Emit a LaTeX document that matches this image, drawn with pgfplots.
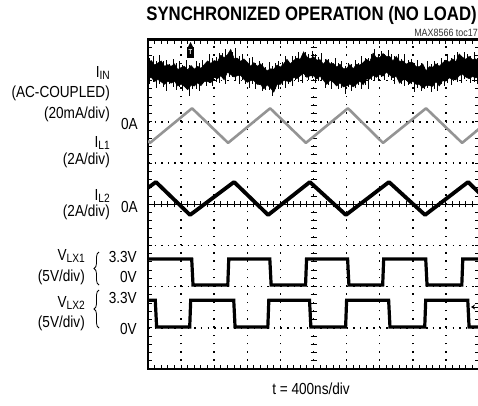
\documentclass[border=0pt]{standalone}
\usepackage{fontspec}
\setmainfont{Liberation Sans}
\newfontfamily\lab[FakeStretch=0.85]{Liberation Sans}
\newfontfamily\titlef[FakeStretch=0.86]{Liberation Sans}
\usepackage{pgfplots}
\pgfplotsset{compat=1.18}
\usepgfplotslibrary{fillbetween}
\usetikzlibrary{decorations.pathreplacing,arrows.meta}
\newcommand{\sub}[1]{\raisebox{-2pt}{\fontsize{12}{12}\selectfont #1}}
\begin{document}
\begin{tikzpicture}[x=1pt,y=1pt]
% centre lines with ticks (graticule decoration)
\draw[black, line width=1pt] (148,200.75) -- (479,200.75);
\foreach \k in {1,...,49} {\draw[black,line width=1pt] (148+\k*6.62,197.75) -- (148+\k*6.62,203.75);}
\foreach \k in {1,...,39} {\draw[black,line width=1pt] (310.5,36+\k*8.2375) -- (316.5,36+\k*8.2375);}
\begin{axis}[
  at={(148pt,36pt)}, anchor=south west,
  scale only axis, width=331pt, height=329.5pt,
  xmin=0, xmax=10, ymin=0, ymax=8,
  xtick={0,...,10}, ytick={0,...,8},
  minor x tick num=4, minor y tick num=4,
  xticklabels={}, yticklabels={},
  tick align=inside, major tick length=4pt, minor tick length=4pt,
  tick style={black, line width=1pt},
  grid=major,
  major x grid style={black, line width=1.5pt, dash pattern=on 1.5pt off 6.74pt},
  major y grid style={black, line width=1.5pt, dash pattern=on 1.5pt off 5.12pt},
  axis line style={line width=2.5pt},
]
% I_IN noisy band (AC-coupled input current)
\addplot[name path=up, black, line width=0.5pt] coordinates {
(0,7.44)(0.1,7.49)(0.2,7.38)(0.3,7.43)(0.4,7.48)(0.5,7.35)(0.6,7.39)(0.7,7.35)(0.8,7.41)(0.9,7.27)
(1,7.32)(1.1,7.35)(1.2,7.26)(1.3,7.37)(1.4,7.28)(1.5,7.35)(1.6,7.30)(1.7,7.39)(1.8,7.48)(1.9,7.42)
(2,7.49)(2.1,7.46)(2.2,7.62)(2.3,7.56)(2.4,7.63)(2.5,7.76)(2.6,7.54)(2.7,7.55)(2.8,7.47)(2.9,7.53)
(3,7.45)(3.1,7.35)(3.2,7.44)(3.3,7.35)(3.4,7.41)(3.5,7.32)(3.6,7.24)(3.7,7.29)(3.8,7.28)(3.9,7.38)
(4,7.33)(4.1,7.41)(4.2,7.52)(4.3,7.41)(4.4,7.49)(4.5,7.55)(4.6,7.52)(4.7,7.70)(4.8,7.58)(4.9,7.53)
(5,7.58)(5.1,7.50)(5.2,7.51)(5.3,7.40)(5.4,7.51)(5.5,7.41)(5.6,7.42)(5.7,7.33)(5.8,7.40)(5.9,7.29)
(6,7.30)(6.1,7.39)(6.2,7.29)(6.3,7.40)(6.4,7.38)(6.5,7.44)(6.6,7.52)(6.7,7.46)(6.8,7.67)(6.9,7.56)
(7,7.56)(7.1,7.66)(7.2,7.59)(7.3,7.59)(7.4,7.48)(7.5,7.59)(7.6,7.47)(7.7,7.48)(7.8,7.40)(7.9,7.45)
(8,7.44)(8.1,7.34)(8.2,7.34)(8.3,7.41)(8.4,7.24)(8.5,7.34)(8.6,7.33)(8.7,7.41)(8.8,7.35)(8.9,7.43)
(9,7.50)(9.1,7.45)(9.2,7.53)(9.3,7.46)(9.4,7.65)(9.5,7.57)(9.6,7.52)(9.7,7.59)(9.8,7.51)(9.9,7.53)(10,7.45)};
\addplot[name path=lo, black, line width=0.5pt] coordinates {
(0,7.05)(0.1,7.08)(0.2,6.98)(0.3,7.03)(0.4,6.97)(0.5,6.91)(0.6,6.99)(0.7,6.94)(0.8,6.99)(0.9,6.87)
(1,6.92)(1.1,6.86)(1.2,6.78)(1.3,6.89)(1.4,6.87)(1.5,6.95)(1.6,6.88)(1.7,6.98)(1.8,6.98)(1.9,6.95)
(2,7.08)(2.1,7.05)(2.2,7.12)(2.3,7.02)(2.4,7.21)(2.5,7.15)(2.6,7.09)(2.7,7.12)(2.8,7.13)(2.9,7.03)
(3,6.96)(3.1,7.00)(3.2,7.00)(3.3,6.91)(3.4,6.91)(3.5,6.80)(3.6,6.90)(3.7,6.82)(3.8,6.72)(3.9,6.91)
(4,6.91)(4.1,7.01)(4.2,6.99)(4.3,6.97)(4.4,7.08)(4.5,7.05)(4.6,7.12)(4.7,7.18)(4.8,7.08)(4.9,7.12)
(5,7.12)(5.1,7.04)(5.2,7.11)(5.3,7.01)(5.4,6.91)(5.5,7.01)(5.6,6.96)(5.7,6.87)(5.8,6.95)(5.9,6.85)
(6,6.87)(6.1,6.92)(6.2,6.85)(6.3,6.92)(6.4,6.99)(6.5,6.90)(6.6,7.04)(6.7,7.04)(6.8,7.13)(6.9,7.08)
(7,7.15)(7.1,7.11)(7.2,7.21)(7.3,7.14)(7.4,7.07)(7.5,7.11)(7.6,6.94)(7.7,7.02)(7.8,7.02)(7.9,6.93)
(8,6.99)(8.1,6.91)(8.2,6.91)(8.3,6.82)(8.4,6.88)(8.5,6.88)(8.6,6.86)(8.7,6.98)(8.8,6.87)(8.9,7.00)
(9,6.99)(9.1,7.07)(9.2,7.03)(9.3,7.02)(9.4,7.12)(9.5,7.16)(9.6,7.09)(9.7,7.05)(9.8,7.10)(9.9,7.07)(10,7.08)};
\addplot[black] fill between[of=up and lo];
% noise spikes of I_IN
\addplot[draw=none, mark=none, error bars/.cd, y dir=both, y explicit, error mark=none,
  error bar style={black, line width=0.6pt}] coordinates {
(0.05,7.25) += (0,0.30) -= (0,0.33) (0.15,7.24) += (0,0.36) -= (0,0.27) (0.25,7.22) += (0,0.26) -= (0,0.39) (0.35,7.21) += (0,0.41) -= (0,0.29) (0.45,7.20) += (0,0.28) -= (0,0.35)
(0.55,7.18) += (0,0.33) -= (0,0.42) (0.65,7.17) += (0,0.24) -= (0,0.26) (0.75,7.15) += (0,0.38) -= (0,0.31) (0.85,7.14) += (0,0.29) -= (0,0.37) (0.95,7.12) += (0,0.35) -= (0,0.28)
(1.05,7.11) += (0,0.27) -= (0,0.36) (1.15,7.10) += (0,0.40) -= (0,0.30) (1.25,7.08) += (0,0.31) -= (0,0.44) (1.35,7.08) += (0,0.25) -= (0,0.27) (1.45,7.11) += (0,0.37) -= (0,0.32)
(1.55,7.14) += (0,0.29) -= (0,0.38) (1.65,7.17) += (0,0.34) -= (0,0.25) (1.75,7.20) += (0,0.26) -= (0,0.34) (1.85,7.23) += (0,0.43) -= (0,0.29) (1.95,7.26) += (0,0.30) -= (0,0.40)
(2.05,7.29) += (0,0.28) -= (0,0.31) (2.15,7.32) += (0,0.35) -= (0,0.37) (2.25,7.35) += (0,0.32) -= (0,0.28) (2.35,7.38) += (0,0.39) -= (0,0.46) (2.45,7.39) += (0,0.27) -= (0,0.30)
(2.55,7.36) += (0,0.33) -= (0,0.26) (2.65,7.34) += (0,0.45) -= (0,0.35) (2.75,7.31) += (0,0.29) -= (0,0.39) (2.85,7.28) += (0,0.36) -= (0,0.27) (2.95,7.25) += (0,0.26) -= (0,0.33)
(3.05,7.23) += (0,0.31) -= (0,0.41) (3.15,7.20) += (0,0.38) -= (0,0.29) (3.25,7.17) += (0,0.27) -= (0,0.36) (3.35,7.14) += (0,0.34) -= (0,0.25) (3.45,7.12) += (0,0.30) -= (0,0.38)
(3.55,7.09) += (0,0.25) -= (0,0.32) (3.65,7.06) += (0,0.40) -= (0,0.28) (3.75,7.07) += (0,0.28) -= (0,0.43) (3.85,7.10) += (0,0.33) -= (0,0.30) (3.95,7.13) += (0,0.36) -= (0,0.34)
(4.05,7.16) += (0,0.29) -= (0,0.27) (4.15,7.19) += (0,0.42) -= (0,0.36) (4.25,7.22) += (0,0.26) -= (0,0.31) (4.35,7.25) += (0,0.35) -= (0,0.39) (4.45,7.28) += (0,0.31) -= (0,0.26)
(4.55,7.31) += (0,0.38) -= (0,0.33) (4.65,7.34) += (0,0.27) -= (0,0.40) (4.75,7.37) += (0,0.33) -= (0,0.29) (4.85,7.36) += (0,0.30) -= (0,0.35) (4.95,7.34) += (0,0.37) -= (0,0.28)
(5.05,7.31) += (0,0.34) -= (0,0.37) (5.15,7.29) += (0,0.28) -= (0,0.30) (5.25,7.26) += (0,0.41) -= (0,0.26) (5.35,7.24) += (0,0.29) -= (0,0.42) (5.45,7.21) += (0,0.32) -= (0,0.32)
(5.55,7.19) += (0,0.26) -= (0,0.38) (5.65,7.17) += (0,0.39) -= (0,0.27) (5.75,7.14) += (0,0.30) -= (0,0.34) (5.85,7.12) += (0,0.35) -= (0,0.29) (5.95,7.09) += (0,0.27) -= (0,0.41)
(6.05,7.09) += (0,0.33) -= (0,0.25) (6.15,7.11) += (0,0.29) -= (0,0.36) (6.25,7.14) += (0,0.37) -= (0,0.31) (6.35,7.17) += (0,0.25) -= (0,0.28) (6.45,7.20) += (0,0.40) -= (0,0.39)
(6.55,7.23) += (0,0.31) -= (0,0.33) (6.65,7.26) += (0,0.28) -= (0,0.45) (6.75,7.29) += (0,0.36) -= (0,0.27) (6.85,7.32) += (0,0.44) -= (0,0.30) (6.95,7.35) += (0,0.30) -= (0,0.35)
(7.05,7.39) += (0,0.34) -= (0,0.29) (7.15,7.39) += (0,0.27) -= (0,0.38) (7.25,7.36) += (0,0.38) -= (0,0.26) (7.35,7.34) += (0,0.32) -= (0,0.32) (7.45,7.31) += (0,0.29) -= (0,0.40)
(7.55,7.29) += (0,0.35) -= (0,0.28) (7.65,7.26) += (0,0.26) -= (0,0.34) (7.75,7.24) += (0,0.41) -= (0,0.37) (7.85,7.21) += (0,0.30) -= (0,0.31) (7.95,7.19) += (0,0.33) -= (0,0.27)
(8.05,7.16) += (0,0.28) -= (0,0.43) (8.15,7.13) += (0,0.37) -= (0,0.30) (8.25,7.11) += (0,0.31) -= (0,0.35) (8.35,7.08) += (0,0.25) -= (0,0.29) (8.45,7.08) += (0,0.39) -= (0,0.26)
(8.55,7.11) += (0,0.29) -= (0,0.38) (8.65,7.13) += (0,0.34) -= (0,0.32) (8.75,7.16) += (0,0.27) -= (0,0.41) (8.85,7.19) += (0,0.36) -= (0,0.28) (8.95,7.21) += (0,0.30) -= (0,0.34)
(9.05,7.24) += (0,0.42) -= (0,0.30) (9.15,7.26) += (0,0.28) -= (0,0.36) (9.25,7.29) += (0,0.33) -= (0,0.27) (9.35,7.31) += (0,0.38) -= (0,0.33) (9.45,7.34) += (0,0.26) -= (0,0.39)
(9.55,7.34) += (0,0.35) -= (0,0.29) (9.65,7.33) += (0,0.31) -= (0,0.25) (9.75,7.31) += (0,0.29) -= (0,0.37) (9.85,7.29) += (0,0.40) -= (0,0.31) (9.95,7.28) += (0,0.27) -= (0,0.35)};

% I_L1 (grey)
\addplot[black!42, line width=2.6pt, line join=round] coordinates {
(0,5.54) (0.06,5.49) (1.33,6.33) (2.42,5.49) (3.69,6.33) (4.77,5.49) (6.04,6.33) (7.10,5.49) (8.40,6.33) (9.49,5.49) (10,5.83)};
% I_L2
\addplot[black, line width=3.8pt, line join=round] coordinates {
(0,4.40) (0.24,4.54) (1.27,3.74) (2.60,4.54) (3.63,3.74) (4.89,4.54) (5.98,3.74) (7.28,4.54) (8.37,3.74) (9.67,4.54) (10,4.28)};
% V_LX1
\addplot[black, line width=3.2pt] coordinates {
(0,2.67) (1.32,2.67) (1.36,2.04) (2.41,2.04) (2.44,2.67) (3.68,2.67) (3.72,2.04) (4.76,2.04) (4.79,2.67) (6.03,2.67) (6.07,2.04) (7.09,2.04) (7.12,2.67) (8.39,2.67) (8.43,2.04) (9.48,2.04) (9.51,2.67) (10,2.67)};
% V_LX2
\addplot[black, line width=3.2pt] coordinates {
(0,1.67) (0.22,1.67) (0.26,1.02) (1.26,1.02) (1.29,1.67) (2.59,1.67) (2.63,1.02) (3.62,1.02) (3.65,1.67) (4.88,1.67) (4.92,1.02) (5.97,1.02) (6.00,1.67) (7.27,1.67) (7.31,1.02) (8.36,1.02) (8.39,1.67) (9.66,1.67) (9.70,1.02) (10,1.02)};
\end{axis}

% trigger marker and ground marker
\fill[black] (187,347) rectangle (194,358);
\fill[black] (188,358) -- (193,358) -- (190.5,363) -- cycle;
\node[inner sep=0, text=white, font=\lab\bfseries\fontsize{7}{7}\selectfont] at (190.5,352.5) {T};
\draw[line width=1pt, -{Stealth[length=4pt,width=5pt]}] (479,98) -- (471,98);

% title
\node[anchor=base east, inner sep=0, font=\titlef\bfseries\fontsize{19.5}{20}\selectfont] at (477,384) {SYNCHRONIZED OPERATION (NO LOAD)};
\node[anchor=base east, inner sep=0, font=\lab\fontsize{10.5}{10.5}\selectfont, text=black!80] at (478,368) {MAX8566 toc17};
\node[anchor=base, inner sep=0, font=\lab\fontsize{16}{16}\selectfont] at (311,11) {t = 400ns/div};

% left labels
\begin{scope}[every node/.style={inner sep=0, anchor=base east, font=\lab\fontsize{16}{16}\selectfont}]
\node at (110,327) {I\sub{IN}};
\node at (110,308) {(AC-COUPLED)};
\node at (110,287) {(20mA/div)};
\node at (138,276) {0A};
\node at (110,258) {I\sub{L1}};
\node at (110,241) {(2A/div)};
\node at (110,205) {I\sub{L2}};
\node at (110,189) {(2A/div)};
\node at (138,193) {0A};
\node at (85,145) {V\sub{LX1}};
\node at (85,124) {(5V/div)};
\node at (137,143) {3.3V};
\node at (137,123) {0V};
\node at (85,98) {V\sub{LX2}};
\node at (85,78) {(5V/div)};
\node at (137,102) {3.3V};
\node at (137,71) {0V};
\end{scope}
\draw[line width=0.8pt, decorate, decoration={brace, amplitude=5pt}] (99,120) -- (99,153);
\draw[line width=0.8pt, decorate, decoration={brace, amplitude=5pt}] (99,77) -- (99,115);
\pgfresetboundingbox
\useasboundingbox (0,0) rectangle (478,405);
\end{tikzpicture}
\end{document}
